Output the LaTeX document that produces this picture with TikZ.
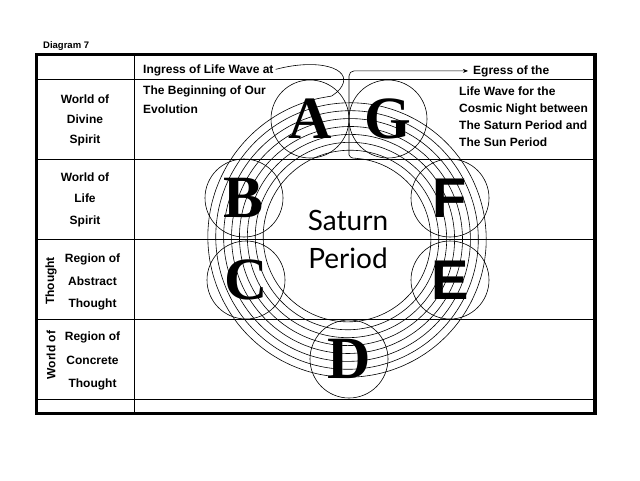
\documentclass[tikz,border=0pt]{standalone}
\usepackage{fontspec}
\setmainfont{Liberation Sans}
\newfontfamily\letterfont{Liberation Serif}
\newfontfamily\periodfont{Lato}
\usetikzlibrary{arrows.meta}

\begin{document}
\begin{tikzpicture}[x=1pt,y=-1pt,
    celltext/.style={font=\fontsize{12}{14}\selectfont\bfseries, inner sep=0pt},
    station/.style={circle, draw, line width=0.6pt, minimum size=78pt, inner sep=0pt,
      font=\letterfont\fontsize{60}{60}\selectfont\bfseries},
    plainletter/.style={font=\fontsize{56}{56}\selectfont\bfseries},
    lifewave/.style={line width=0.6pt}]
  \useasboundingbox (0,0) rectangle (640,480);
  \node[celltext, font=\fontsize{9.5}{11}\selectfont\bfseries, anchor=base west] (title) at (43,48) {Diagram 7};
  % table
  \draw[line width=3.3pt] (36.7,54.3) rectangle (595,413.7);
  \foreach \y in {79,159,239,319,399}
    \draw[line width=0.9pt] (36.7,\y) -- (595,\y);
  \draw[line width=0.9pt] (134,54.3) -- (134,413.7);
  % worlds
  \foreach \t/\x/\y [count=\i] in {World of/85/103, Divine/85/123, Spirit/85/143,
      World of/85/181, Life/85/202, Spirit/85/224,
      Region of/92.5/262, Abstract/92.5/285, Thought/92.5/307,
      Region of/92.5/340, Concrete/92.5/364, Thought/92.5/387}
    \node[celltext, anchor=base] (world\i) at (\x,\y) {\t};
  \node[celltext, rotate=90] (thought) at (51,281) {Thought};
  \node[celltext, rotate=90] (worldof) at (51,355) {World of};
  % notes
  \node[celltext, anchor=base west] (ingress) at (143,73) {Ingress of Life Wave at};
  \node[celltext, anchor=base west] (begin1) at (143,94) {The Beginning of Our};
  \node[celltext, anchor=base west] (begin2) at (143,113) {Evolution};
  \node[celltext, anchor=base west] (egress) at (473,74) {Egress of the};
  \foreach \t [count=\i] in {Life Wave for the, Cosmic Night between, The Saturn Period and, The Sun Period}
    \node[celltext, anchor=base west] (night\i) at (459,77.7+17.3*\i) {\t};
  % globes
  \node[station] (A) at (310,119) {A};
  \node[station] (G) at (388,119) {G};
  \node[station] (B) at (244,198) {B};
  \node[station] (C) at (246,280) {C};
  \node[station] (D) at (349,359) {D};
  \node[station, plainletter] (E) at (450,280) {E};
  \node[station, plainletter] (F) at (450,198) {F};
  \node[font=\periodfont\fontsize{28}{30}\selectfont, inner sep=0pt, anchor=base] (saturn) at (348,230) {Saturn};
  \node[font=\periodfont\fontsize{28}{30}\selectfont, inner sep=0pt, anchor=base] (period) at (348,268) {Period};
  % life wave
  \coordinate (start) at ({349+143*cos(97)},{238-143*sin(97)});
  \coordinate (finish) at ({349+80*cos(85)},{238-80*sin(85)});
  \draw[lifewave] plot[domain=97:2965, samples=500, smooth, variable=\t]
    ({349+(143-(\t-97)/2868*63)*cos(\t)},{238-(143-(\t-97)/2868*63)*sin(\t)});
  \draw[lifewave, shorten <=2pt] (ingress.east) .. controls (318,58) and (352,68) .. (342,86)
    .. controls (339,91) and (336,93) .. (start);
  \draw[lifewave, rounded corners=5pt, shorten >=5pt, -{Stealth[length=5pt,width=4pt]}]
    (finish) .. controls (351,158.5) and (349,156) .. (349,150) |- (egress.west);
\end{tikzpicture}
\end{document}
